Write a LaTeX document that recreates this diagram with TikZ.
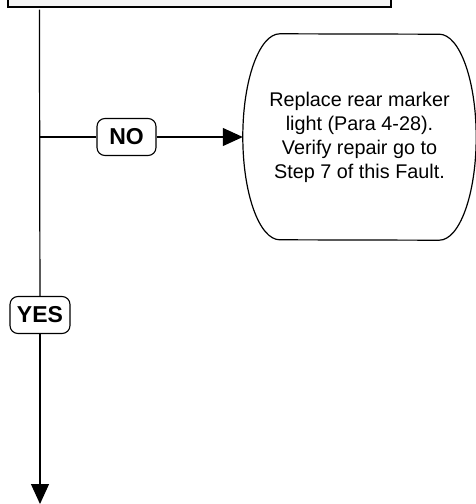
\documentclass[tikz,border=0pt]{standalone}
\usepackage{fontspec}
\setmainfont{Liberation Sans}
\usepackage{tikz}
\usetikzlibrary{positioning,arrows.meta}

\begin{document}
\begin{tikzpicture}[x=1pt, y=-1pt,
  box/.style={draw, fill=gray!8, line width=1.1pt, minimum width=383pt, minimum height=40pt},
  tag/.style={draw, fill=white, rounded corners=8pt, line width=1.1pt, font=\bfseries\fontsize{23}{26}\selectfont, minimum height=37pt, minimum width=59pt, inner xsep=7pt},
  endbox/.style={align=center, font=\fontsize{19.8}{24}\selectfont, minimum width=233pt, minimum height=206pt},
  wire/.style={line width=1.2pt},
  arr/.style={-{Triangle[length=20pt, width=18pt]}, line width=1.2pt}]
  \useasboundingbox (0,0) rectangle (476,504);
  \node[box] (check) at (199.5,-13) {};
  \node[endbox] (fix) at (359.5,137) {Replace rear marker\\light (Para 4-28).\hspace*{16pt}\\Verify repair go to\\Step 7 of this Fault.};
  \draw[wire] ([xshift=37pt]fix.north west) arc[start angle=90, end angle=270, x radius=37pt, y radius=103pt]
    -- ([xshift=-37pt]fix.south east) arc[start angle=-90, end angle=90, x radius=37pt, y radius=103pt] -- cycle;
  \node[tag] (no) at (126.5,137) {NO};
  \node[tag] (yes) at (40,315) {YES};
  \coordinate (top) at ([xshift=32pt, yshift=-2pt]check.south west);
  \coordinate (split) at (40,137);
  \coordinate (down) at (40,504);
  \draw[wire] (top) -- (yes);
  \draw[arr] (yes) -- (down);
  \draw[wire] (split) -- (no);
  \draw[arr] (no) -- (fix.west);
\end{tikzpicture}
\end{document}
